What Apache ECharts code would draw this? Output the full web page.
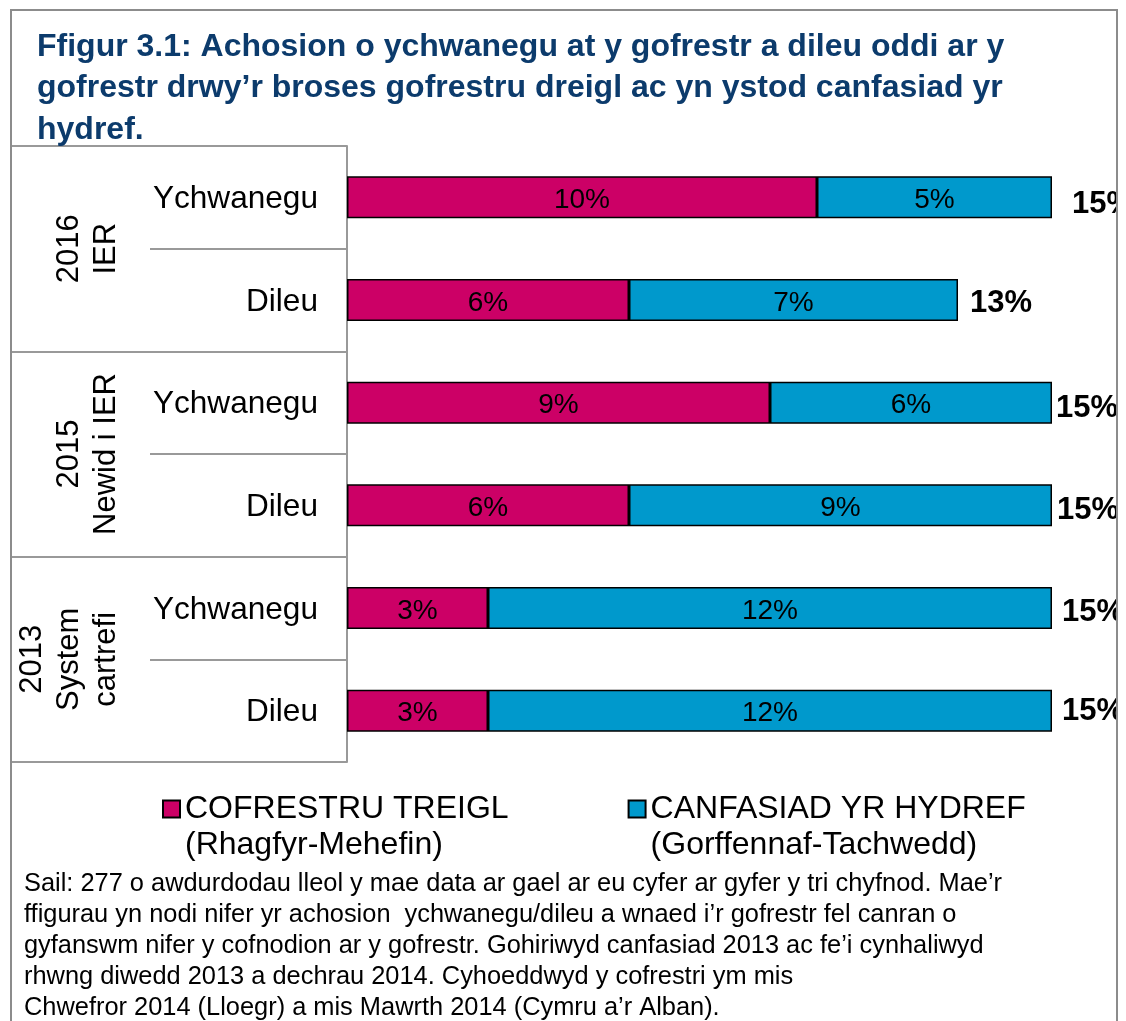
<!DOCTYPE html>
<html>
<head>
<meta charset="utf-8">
<script src="https://cdn.jsdelivr.net/npm/echarts@6/dist/echarts.min.js"></script>
<style>
  html, body { margin: 0; padding: 0; background: #fff; }
  #chart { width: 1126px; height: 1021px; }
</style>
</head>
<body>
<div id="chart"></div>
<script>
// categories
const groups = ['2016\nIER', '2015\nNewid i IER', '2013\nSystem\ncartrefi'];
const rows = ['Ychwanegu', 'Dileu', 'Ychwanegu', 'Dileu', 'Ychwanegu', 'Dileu'];
// series values (%)
const rolling = [10, 6, 9, 6, 3, 3];
const canvass = [5, 7, 6, 9, 12, 12];
const totals = [15, 13, 15, 15, 15, 15];
// legend names
const rollingName = 'COFRESTRU TREIGL\n(Rhagfyr-Mehefin)';
const canvassName = 'CANFASIAD YR HYDREF\n(Gorffennaf-Tachwedd)';

const titleText = 'Ffigur 3.1: Achosion o ychwanegu at y gofrestr a dileu oddi ar y\n' +
  'gofrestr drwy’r broses gofrestru dreigl ac yn ystod canfasiad yr\n' +
  'hydref.';
const noteText = 'Sail: 277 o awdurdodau lleol y mae data ar gael ar eu cyfer ar gyfer y tri chyfnod. Mae’r\n' +
  'ffigurau yn nodi nifer yr achosion  ychwanegu/dileu a wnaed i’r gofrestr fel canran o\n' +
  'gyfanswm nifer y cofnodion ar y gofrestr. Gohiriwyd canfasiad 2013 ac fe’i cynhaliwyd\n' +
  'rhwng diwedd 2013 a dechrau 2014. Cyhoeddwyd y cofrestri ym mis\n' +
  'Chwefror 2014 (Lloegr) a mis Mawrth 2014 (Cymru a’r Alban).';

const font = 'Arial, "Liberation Sans", sans-serif';
const lineColor = '#999999';
// placement of the total labels per row (the original is a bit uneven)
const totalGap = [20, 12, 4, 5, 10, 10];
const totalDrop = [7, 3, 6, 5, 4, 1];

const chart = echarts.init(document.getElementById('chart'));

chart.setOption({
  animation: false,
  backgroundColor: '#fff',
  textStyle: { fontFamily: font },
  title: [
    {
      text: titleText,
      left: 37,
      top: 26,
      padding: 0,
      textStyle: { fontFamily: font, fontSize: 32, fontWeight: 'bold', color: '#0c3b6c', lineHeight: 41.5 }
    },
    {
      text: noteText,
      left: 24,
      top: 868,
      padding: 0,
      textStyle: { fontFamily: font, fontSize: 25.4, fontWeight: 'normal', color: '#000', lineHeight: 31 }
    }
  ],
  legend: {
    data: [rollingName, canvassName],
    // leading blank line keeps the swatch level with the first line of text
    formatter: name => ' \n' + name,
    left: 162,
    top: 755,
    padding: 0,
    itemWidth: 17,
    itemHeight: 17,
    itemGap: 119,
    icon: 'rect',
    selectedMode: false,
    textStyle: { fontFamily: font, fontSize: 32, color: '#000', lineHeight: 36 }
  },
  grid: { left: 347, right: 74, top: 146, height: 616, containLabel: false },
  xAxis: { type: 'value', min: 0, max: 15, show: false },
  yAxis: [
    {
      type: 'category',
      data: rows,
      inverse: true,
      axisLine: { show: true, lineStyle: { color: lineColor, width: 2 } },
      axisTick: { show: true, length: 197, interval: 0, lineStyle: { color: lineColor, width: 2 } },
      axisLabel: {
        interval: 0, margin: 29,
        formatter: v => '{r|' + v + '}',
        rich: { r: { fontFamily: font, fontSize: 31.6, color: '#000', padding: [4, 0, 0, 0] } }
      },
      splitLine: { show: false }
    },
    {
      type: 'category',
      data: groups,
      inverse: true,
      position: 'left',
      offset: 0,
      axisLine: { show: false },
      axisTick: { show: true, length: 336, interval: 0, lineStyle: { color: lineColor, width: 2 } },
      axisLabel: { interval: 0, hideOverlap: false, fontFamily: font, fontSize: 31, color: '#000', margin: 222, rotate: 90, lineHeight: 37, align: 'center' },
      splitLine: { show: false }
    }
  ],
  series: [
    {
      name: rollingName,
      type: 'bar',
      stack: 'all',
      barWidth: 42,
      data: rolling,
      itemStyle: { color: '#cc0066', borderColor: '#000', borderWidth: 1.5 },
      label: { show: true, position: 'inside', offset: [0, 3], formatter: '{c}%', fontFamily: font, fontSize: 28, color: '#000' }
    },
    {
      name: canvassName,
      type: 'bar',
      stack: 'all',
      barWidth: 42,
      data: canvass,
      itemStyle: { color: '#0099cc', borderColor: '#000', borderWidth: 1.5 },
      label: { show: true, position: 'inside', offset: [0, 3], formatter: '{c}%', fontFamily: font, fontSize: 28, color: '#000' }
    },
    {
      name: 'Cyfanswm',
      type: 'bar',
      barWidth: 42,
      barGap: '-100%',
      silent: true,
      z: 1,
      data: totals.map((v, i) => ({ value: v, label: { distance: totalGap[i], offset: [0, totalDrop[i]] } })),
      itemStyle: { color: 'rgba(0,0,0,0)', borderWidth: 0 },
      label: { show: true, position: 'right', formatter: '{c}%', fontFamily: font, fontSize: 31, fontWeight: 'bold', color: '#000' }
    }
  ],
  graphic: [
    {
      type: 'rect',
      z: 100,
      shape: { x: 1118, y: 0, width: 8, height: 1021 },
      style: { fill: '#fff' }
    },
    {
      type: 'rect',
      z: 101,
      shape: { x: 11, y: 10, width: 1106, height: 1030 },
      style: { fill: null, stroke: '#8c8c8c', lineWidth: 2 }
    }
  ]
});
</script>
</body>
</html>
